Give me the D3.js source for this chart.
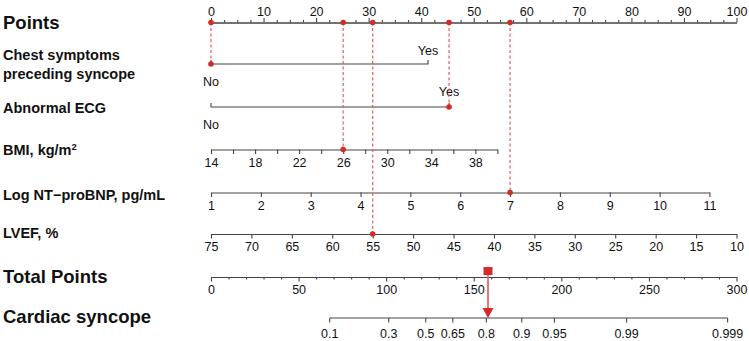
<!DOCTYPE html>
<html>
<head>
<meta charset="utf-8">
<script src="https://cdn.jsdelivr.net/npm/d3@7"></script>
<style>
  body { margin: 0; background: #fff; }
  svg text { font-family: "Liberation Sans", Arial, sans-serif; fill: #111; }
  .tick text { font-size: 12.5px; }
  .axis path, .axis line { stroke: #444; stroke-width: 1.1; }
</style>
</head>
<body>
<svg id="chart" width="749" height="341"></svg>
<script>
// Points axis ticks
const pointTicks = [0, 10, 20, 30, 40, 50, 60, 70, 80, 90, 100];
const pointMinorTicks = [2.5, 5, 7.5, 12.5, 15, 17.5, 22.5, 25, 27.5, 32.5, 35, 37.5, 42.5, 45, 47.5,
  52.5, 55, 57.5, 62.5, 65, 67.5, 72.5, 75, 77.5, 82.5, 85, 87.5, 92.5, 95, 97.5];

// categorical predictors: level -> points
const chestLevels = ["No", "Yes"];
const chestPoints = [0, 41.3];
const ecgLevels = ["No", "Yes"];
const ecgPoints = [0, 45.3];

// continuous predictors: value range and points range
const bmiRange = [14, 40];
const bmiPoints = [0, 54.5];
const bmiTicks = [14, 16, 18, 20, 22, 24, 26, 28, 30, 32, 34, 36, 38, 40];
const bmiLabels = [14, 18, 22, 26, 30, 34, 38];

const ntRange = [1, 11];
const ntPoints = [0, 94.85];
const ntTicks = [1, 2, 3, 4, 5, 6, 7, 8, 9, 10, 11];

const lvefRange = [75, 10];
const lvefPoints = [0, 100];
const lvefTicks = [75, 70, 65, 60, 55, 50, 45, 40, 35, 30, 25, 20, 15, 10];

const totalTicks = [0, 50, 100, 150, 200, 250, 300];
const totalMinorTicks = [10, 20, 30, 40, 60, 70, 80, 90, 110, 120, 130, 140, 160, 170, 180, 190,
  210, 220, 230, 240, 260, 270, 280, 290];

const probTicks = [0.1, 0.3, 0.5, 0.65, 0.8, 0.9, 0.95, 0.99, 0.999];
const probFormat = ["0.1", "0.3", "0.5", "0.65", "0.8", "0.9", "0.95", "0.99", "0.999"];
// total points at logit = 0 and points per logit unit
const lpZeroPoints = 122.6;
const pointsPerLogit = 24.95;

// example patient
const patient = { chest: "No", ecg: "Yes", bmi: 26, nt: 7, lvef: 55 };

const svg = d3.select("#chart");
const left = 211, right = 736.5;
const red = "#d42a2a";
const dashRed = "#e35d5d";

const x = d3.scaleLinear().domain([0, 100]).range([left, right]);
const xTotal = d3.scaleLinear().domain([0, 300]).range([left, right]);

const rows = {
  points: 22.5, chest: 64, ecg: 107, bmi: 149.5, nt: 192.5, lvef: 234, total: 277, prob: 318
};

const addLabel = (text, y, size) =>
  svg.append("text").attr("x", 3).attr("y", y).attr("font-size", size)
    .attr("font-weight", "bold").text(text);

addLabel("Points", rows.points + 6, 18.5);
addLabel("Chest symptoms", rows.chest - 4, 14.5);
addLabel("preceding syncope", rows.chest + 15, 14.5);
addLabel("Abnormal ECG", rows.ecg + 5.5, 14.5);
const bmiLab = addLabel("BMI, kg/m", rows.bmi + 5, 14.5);
bmiLab.append("tspan").attr("dy", -5).attr("font-size", 9.5).text("2");
addLabel("Log NT\u2212proBNP, pg/mL", rows.nt + 7.5, 14.5);
addLabel("LVEF, %", rows.lvef + 4, 14.5);
addLabel("Total Points", rows.total + 5.5, 18.5);
addLabel("Cardiac syncope", rows.prob + 4.5, 18.5);

// points axis
svg.append("g").attr("class", "axis").attr("transform", `translate(0,${rows.points})`)
  .call(d3.axisTop(x).tickValues(pointMinorTicks).tickSize(2.5).tickSizeOuter(0).tickFormat(""));
svg.append("g").attr("class", "axis").attr("transform", `translate(0,${rows.points})`)
  .call(d3.axisTop(x).tickValues(pointTicks).tickSize(4.5).tickSizeOuter(0).tickPadding(2))
  .call((g) => g.selectAll(".tick text").attr("font-size", 12.5));

// categorical rows
const catRow = (levels, pts, y, yesDy) => {
  const g = svg.append("g").attr("class", "axis");
  const xs = pts.map((p) => x(p));
  g.append("path").attr("fill", "none")
    .attr("d", `M${xs[0]},${y - 4}V${y}H${xs[1]}V${y - 4}`);
  g.append("text").attr("x", xs[0]).attr("y", y + 22).attr("text-anchor", "middle")
    .attr("font-size", 12.5).text(levels[0]);
  g.append("text").attr("x", xs[1]).attr("y", y + yesDy).attr("text-anchor", "middle")
    .attr("font-size", 12.5).text(levels[1]);
};
catRow(chestLevels, chestPoints, rows.chest, -9);
catRow(ecgLevels, ecgPoints, rows.ecg, -11);

// continuous rows
const contScale = (range, pts) => d3.scaleLinear().domain(range).range(pts.map((p) => x(p)));
const sBmi = contScale(bmiRange, bmiPoints);
const sNt = contScale(ntRange, ntPoints);
const sLvef = contScale(lvefRange, lvefPoints);

const bottomAxis = (scale, ticks, y, fmt) =>
  svg.append("g").attr("class", "axis").attr("transform", `translate(0,${y})`)
    .call(d3.axisBottom(scale).tickValues(ticks).tickSize(4.5).tickSizeOuter(0)
      .tickPadding(4).tickFormat(fmt));

bottomAxis(sBmi, bmiTicks, rows.bmi, (d) => (bmiLabels.includes(d) ? d : ""));
bottomAxis(sNt, ntTicks, rows.nt, (d) => d);
bottomAxis(sLvef, lvefTicks, rows.lvef, (d) => d);

// total points
svg.append("g").attr("class", "axis").attr("transform", `translate(0,${rows.total})`)
  .call(d3.axisBottom(xTotal).tickValues(totalMinorTicks).tickSize(2.5).tickSizeOuter(0).tickFormat(""));
bottomAxis(xTotal, totalTicks, rows.total, (d) => d);

// probability axis
const logit = (p) => Math.log(p / (1 - p));
const probX = (p) => xTotal(lpZeroPoints + pointsPerLogit * logit(p));
const probAxis = svg.append("g").attr("class", "axis").attr("transform", `translate(0,${rows.prob})`);
probAxis.append("path").attr("fill", "none")
  .attr("d", `M${probX(probTicks[0])},${0}H${probX(probTicks[probTicks.length - 1])}`);
probTicks.forEach((p, i) => {
  probAxis.append("line").attr("x1", probX(p)).attr("x2", probX(p)).attr("y1", 0).attr("y2", 4.5);
  probAxis.append("text").attr("x", probX(p)).attr("y", 19.5).attr("text-anchor", "middle")
    .attr("font-size", 12.5).text(probFormat[i]);
});

// patient projections
const patientMarks = [
  { pts: chestPoints[chestLevels.indexOf(patient.chest)], y: rows.chest },
  { pts: ecgPoints[ecgLevels.indexOf(patient.ecg)], y: rows.ecg },
  { pts: x.invert(sBmi(patient.bmi)), y: rows.bmi },
  { pts: x.invert(sNt(patient.nt)), y: rows.nt },
  { pts: x.invert(sLvef(patient.lvef)), y: rows.lvef },
];

svg.append("g").selectAll("line").data(patientMarks).join("line")
  .attr("x1", (d) => x(d.pts)).attr("x2", (d) => x(d.pts))
  .attr("y1", rows.points).attr("y2", (d) => d.y)
  .attr("stroke", dashRed).attr("stroke-width", 1.2).attr("stroke-dasharray", "3,2.5");

svg.append("g").selectAll("circle").data(patientMarks).join("circle")
  .attr("cx", (d) => x(d.pts)).attr("cy", rows.points).attr("r", 2.8).attr("fill", red);
svg.append("g").selectAll("circle").data(patientMarks).join("circle")
  .attr("cx", (d) => x(d.pts)).attr("cy", (d) => d.y).attr("r", 2.8).attr("fill", red);

const total = d3.sum(patientMarks, (d) => d.pts);
const tx = xTotal(total);
svg.append("line").attr("x1", tx).attr("x2", tx).attr("y1", rows.total - 4).attr("y2", rows.prob - 9)
  .attr("stroke", "#e06a6a").attr("stroke-width", 1.8);
svg.append("rect").attr("x", tx - 4.5).attr("y", rows.total - 10).attr("width", 9).attr("height", 8)
  .attr("fill", red);
svg.append("path")
  .attr("d", `M${tx - 5.5},${rows.prob - 10}L${tx + 5.5},${rows.prob - 10}L${tx},${rows.prob}Z`)
  .attr("fill", red);
</script>
</body>
</html>
